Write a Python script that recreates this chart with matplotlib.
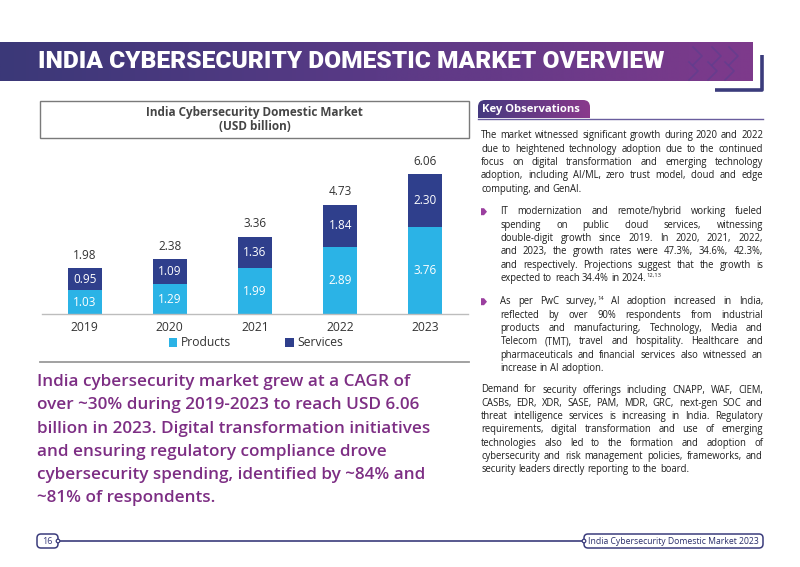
import numpy as np
import matplotlib
matplotlib.use("Agg")
import matplotlib.pyplot as plt
from matplotlib.patches import Rectangle, FancyBboxPatch, Polygon, Circle
from matplotlib.colors import LinearSegmentedColormap

# chart data
years = ["2019", "2020", "2021", "2022", "2023"]
products = [1.03, 1.29, 1.99, 2.89, 3.76]
services = [0.95, 1.09, 1.36, 1.84, 2.30]
totals = [1.98, 2.38, 3.36, 4.73, 6.06]

title = "INDIA CYBERSECURITY DOMESTIC MARKET OVERVIEW"
chart_title = "India Cybersecurity Domestic Market\n(USD billion)"
footer_label = "India Cybersecurity Domestic Market 2023"
summary = ["India cybersecurity market grew at a CAGR of",
           "over ~30% during 2019-2023 to reach USD 6.06",
           "billion in 2023. Digital transformation initiatives",
           "and ensuring regulatory compliance drove",
           "cybersecurity spending, identified by ~84% and",
           "~81% of respondents."]
para1 = ["The market witnessed significant growth during 2020 and 2022",
         "due to heightened technology adoption due to the continued",
         "focus on digital transformation and emerging technology",
         "adoption, including AI/ML, zero trust model, cloud and edge",
         "computing, and GenAI."]
bullet1 = ["IT modernization and remote/hybrid working fueled",
           "spending on public cloud services, witnessing",
           "double-digit growth since 2019. In 2020, 2021, 2022,",
           "and 2023, the growth rates were 47.3%, 34.6%, 42.3%,",
           "and respectively. Projections suggest that the growth is",
           "expected to reach 34.4% in 2024.^12,13"]
bullet2 = ["As per PwC survey,^14 AI adoption increased in India,",
           "reflected by over 90% respondents from industrial",
           "products and manufacturing, Technology, Media and",
           "Telecom (TMT), travel and hospitality. Healthcare and",
           "pharmaceuticals and financial services also witnessed an",
           "increase in AI adoption."]
para3 = ["Demand for security offerings including CNAPP, WAF, CIEM,",
         "CASBs, EDR, XDR, SASE, PAM, MDR, GRC, next-gen SOC and",
         "threat intelligence services is increasing in India. Regulatory",
         "requirements, digital transformation and use of emerging",
         "technologies also led to the formation and adoption of",
         "cybersecurity and risk management policies, frameworks, and",
         "security leaders directly reporting to the board."]

prod_color = "#2bb3e6"
serv_color = "#2f3f8c"
navy = "#3b3c7c"
purple_text = "#7d2e84"
body_color = "#1e1e1e"
font = ["Open Sans", "DejaVu Sans"]

fig = plt.figure(figsize=(8, 5.67), dpi=100)
page = fig.add_axes([0, 0, 1, 1])
page.set_xlim(0, 800)
page.set_ylim(567, 0)
page.axis("off")
renderer = fig.canvas.get_renderer()


def measure(s, size, weight="normal", family=font):
    t = page.text(0, 0, s, fontsize=size, family=family, fontweight=weight)
    w = t.get_window_extent(renderer).width
    t.remove()
    return w


def fit_size(s, width, weight="normal", family=font):
    return 10 * width / measure(s, 10, weight, family)


# header band with gradient
grad = np.linspace(0, 1, 256).reshape(1, -1)
band_cmap = LinearSegmentedColormap.from_list("band", ["#3b3878", "#5a3a86", "#7e3a8c"])
page.imshow(grad, cmap=band_cmap, extent=(0, 753, 81, 42), aspect="auto", zorder=1)
for x0 in [693, 712, 729]:
    page.plot([x0, x0 + 9, x0], [47, 56, 65], color="#5b3f90", lw=1.2, alpha=0.6, zorder=2)
    page.plot([x0 - 4, x0 + 5, x0 - 4], [62, 71, 80], color="#5b3f90", lw=1.2, alpha=0.6, zorder=2)
page.plot([715, 762, 762], [90, 90, 55], color=navy, lw=2.6, solid_capstyle="butt", zorder=2)
title_family = ["Roboto", "DejaVu Sans"]
title_size = fit_size(title, 622, "black", title_family)
page.text(38, 61, title, color="white", fontsize=title_size, fontweight="black",
          family=title_family, va="center", ha="left", zorder=3)

# chart title box
page.add_patch(Rectangle((40, 101), 429, 37, fill=False, ec="#7a7a7a", lw=1.0))
page.text(254.5, 119.5, chart_title, ha="center", va="center", fontsize=8.5,
          fontweight="bold", color="#454545", family=font, linespacing=1.15)
page.plot([40, 469], [362, 362], color="#9a9a9a", lw=1.3)

# bar chart
ax = fig.add_axes([42 / 800, (567 - 314) / 567, 426 / 800, 164 / 567])
x = np.arange(len(years))
ax.bar(x, products, width=0.4, color=prod_color, label="Products", zorder=2)
ax.bar(x, services, width=0.4, bottom=products, color=serv_color, label="Services", zorder=2)
for i in range(len(years)):
    ax.text(x[i], products[i] / 2, f"{products[i]:.2f}", ha="center", va="center",
            color="white", fontsize=8.5, family=font)
    ax.text(x[i], products[i] + services[i] / 2, f"{services[i]:.2f}", ha="center",
            va="center", color="white", fontsize=8.5, family=font)
    ax.text(x[i], products[i] + services[i] + 0.28, f"{totals[i]:.2f}", ha="center",
            va="bottom", color="#333333", fontsize=8.5, family=font)
ax.set_xlim(-0.5, 4.5)
ax.set_ylim(0, 7.1)
ax.set_xticks(x)
ax.set_xticklabels(years, fontsize=8.7, color="#333333", family=font)
ax.tick_params(axis="x", length=0, pad=5)
ax.set_yticks([])
for s in ["top", "right", "left"]:
    ax.spines[s].set_visible(False)
ax.spines["bottom"].set_color("#bdbdbd")
ax.spines["bottom"].set_linewidth(1.0)
ax.patch.set_alpha(0)
leg = fig.legend(handles=ax.patches[:1] + ax.patches[5:6], labels=["Products", "Services"],
                 loc="center", bbox_to_anchor=(256 / 800, 1 - 343 / 567), ncol=2,
                 frameon=False, handlelength=0.7, handleheight=0.7,
                 handletextpad=0.3, columnspacing=4.5, prop={"family": font, "size": 8.7})
for t in leg.get_texts():
    t.set_color("#333333")

# summary text in purple
sum_size = fit_size(summary[2], 393, "semibold")
for i, line in enumerate(summary):
    page.text(37, 382 + i * 23.3, line, color=purple_text, fontsize=sum_size,
              fontweight="semibold", family=font, va="center", ha="left")

# key observations tab
tab_cmap = LinearSegmentedColormap.from_list("tab", ["#45397f", "#8a3a8c"])
tab = page.imshow(grad, cmap=tab_cmap, extent=(478, 590, 118, 100), aspect="auto", zorder=1)
tab.set_clip_path(FancyBboxPatch((478, 100), 112, 30, boxstyle="round,pad=0,rounding_size=7",
                                 transform=page.transData))
page.text(482, 109.5, "Key Observations", color="white",
          fontsize=fit_size("Key Observations", 98, "bold"), fontweight="bold",
          family=font, va="center", ha="left")
page.plot([478, 763], [118.5, 118.5], color="#6a5d9e", lw=1.0)

body_size = fit_size(para1[0], 280)
sup_size = body_size * 0.6


def word_width(word):
    if "^" in word:
        base, sup = word.split("^")
        return measure(base, body_size) + measure(sup, sup_size)
    return measure(word, body_size)


def draw_word(xpos, ypos, word):
    if "^" in word:
        base, sup = word.split("^")
        page.text(xpos, ypos, base, fontsize=body_size, family=font, color=body_color,
                  va="center", ha="left")
        page.text(xpos + measure(base, body_size), ypos - 3, sup, fontsize=sup_size,
                  family=font, color=body_color, va="center", ha="left")
    else:
        page.text(xpos, ypos, word, fontsize=body_size, family=font, color=body_color,
                  va="center", ha="left")


def justified(lines, x0, x1, y0, step=13.33):
    space = measure("a b", body_size) - measure("ab", body_size)
    for i, line in enumerate(lines):
        words = line.split(" ")
        widths = [word_width(w) for w in words]
        y = y0 + i * step
        if i == len(lines) - 1 or len(words) == 1:
            gap = space
        else:
            gap = (x1 - x0 - sum(widths)) / (len(words) - 1)
        xpos = x0
        for w, wd in zip(words, widths):
            draw_word(xpos, y, w)
            xpos += wd + gap


def bullet_mark(y):
    page.add_patch(Polygon([[481, y - 3.5], [484, y - 3.5], [487, y], [484, y + 3.5], [481, y + 3.5]],
                           closed=True, fc="#9b3f9f", ec="none"))


justified(para1, 481, 763, 135.7)
bullet_mark(211.7)
justified(bullet1, 500.5, 763, 211.7)
bullet_mark(301.7)
justified(bullet2, 500.5, 763, 301.7)
justified(para3, 481, 763, 390)

# footer
page.plot([58, 584], [541, 541], color=navy, lw=1.2, zorder=1)
page.add_patch(FancyBboxPatch((37, 534), 21, 14, boxstyle="round,pad=0,rounding_size=4",
                              fc="white", ec=navy, lw=1.1, zorder=2))
page.text(47.5, 541, "16", fontsize=6.5, color=navy, ha="center", va="center", family=font)
page.add_patch(FancyBboxPatch((584, 534), 179, 14, boxstyle="round,pad=0,rounding_size=4",
                              fc="white", ec=navy, lw=1.1, zorder=2))
page.text(673.5, 541, footer_label, fontsize=fit_size(footer_label, 170), color="#2b2f6b",
          ha="center", va="center", family=font, zorder=3)
for cx in [58, 584]:
    page.add_patch(Circle((cx, 541), 1.8, fc="white", ec=navy, lw=0.9, zorder=3))

fig.savefig("out.png", dpi=100)
